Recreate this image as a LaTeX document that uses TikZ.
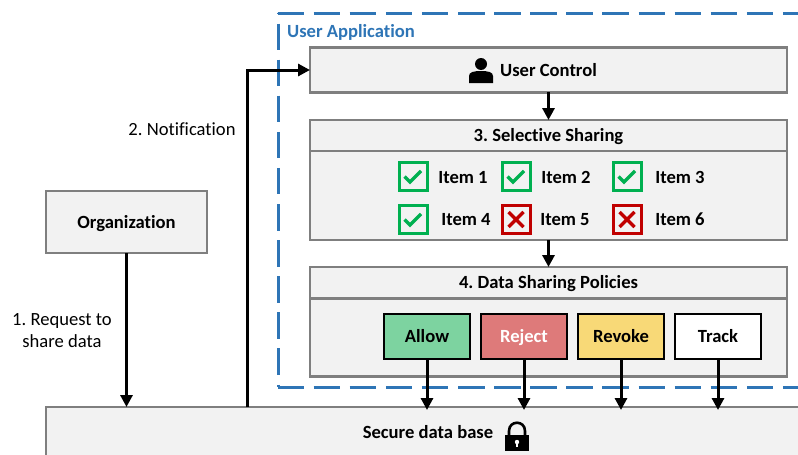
\documentclass[tikz,border=0pt]{standalone}
\usepackage{fontspec}
\setmainfont[Ligatures=NoCommon]{Carlito}
\frenchspacing
\usetikzlibrary{arrows.meta}

\definecolor{boxgray}{HTML}{F2F2F2}
\definecolor{edgegray}{HTML}{7F7F7F}
\definecolor{appblue}{HTML}{2E75B6}
\definecolor{okgreen}{HTML}{00B050}
\definecolor{nored}{HTML}{C00000}
\definecolor{allowfill}{HTML}{7DD3A0}
\definecolor{rejectfill}{HTML}{DE7A7A}
\definecolor{revokefill}{HTML}{F8D977}

\tikzset{
  lbl/.style={font=\fontsize{18.6}{22}\selectfont, inner sep=0pt, text height=14pt, text depth=2pt},
  lblb/.style={lbl, font=\fontsize{18.6}{22}\selectfont\bfseries},
  graybox/.style={lblb, draw=edgegray, line width=2.6pt, fill=boxgray, inner sep=0pt, outer sep=0pt},
  action/.style={lblb, draw=black, line width=2.4pt, inner sep=0pt, outer sep=0pt, minimum width=86pt, minimum height=45pt},
  flow/.style={line width=3pt, -{Triangle[length=12pt,width=12pt]}},
  appline/.style={draw=appblue, line width=3pt, dash pattern=on 26.5pt off 9.6pt},
  okbox/.style={draw=okgreen, line width=3pt, inner sep=0pt, minimum size=28pt,
    path picture={\draw[okgreen, line width=3.2pt] ([shift={(-8.5pt,0pt)}]path picture bounding box.center) -- ++(5.5pt,-5.5pt) -- ++(11pt,11pt);}},
  nobox/.style={draw=nored, line width=3pt, inner sep=0pt, minimum size=28pt,
    path picture={\draw[nored, line width=3.2pt] ([shift={(-7.5pt,-7.5pt)}]path picture bounding box.center) -- ++(15pt,15pt) ([shift={(-7.5pt,7.5pt)}]path picture bounding box.center) -- ++(15pt,-15pt);}},
}

\begin{document}
\begin{tikzpicture}[x=1pt,y=-1pt]
\useasboundingbox (0,0) rectangle (798,455);
\clip (0,0) rectangle (798,455);

% User application frame
\draw[appline] (277.5,13) -- (800,13);
\draw[appline] (277.5,387) -- (800,387);
\draw[appline, dash phase=25.6pt] (278,13) -- (278,387);
\node[lblb, text=appblue] (apptitle) at (351,31) {User Application};

% Bottom store and organization
\node[graybox, minimum width=800pt, minimum height=100pt] (store) at (446,457) {};
\node[lblb] (storetext) at (428,432) {Secure data base};
\node[graybox, minimum width=161pt, minimum height=62pt] (org) at (126.5,222) {Organization};

% User control
\node[graybox, minimum width=477pt, minimum height=44.5pt] (ctrl) at (548.5,70) {};
\node[lblb] (ctrltext) at (548.5,70) {User Control};
\fill (481,64) circle (6pt);
\fill (469,83) -- (469,76) .. controls (469,72) and (474,71) .. (481,71) .. controls (488,71) and (493,72) .. (493,76) -- (493,83) -- cycle;

% Selective sharing
\node[graybox, minimum width=477pt, minimum height=31pt] (sharehead) at (548.5,135.5) {3. Selective Sharing};
\node[graybox, minimum width=477pt, minimum height=89pt] (sharebody) at (548.5,195.5) {};

\node[okbox] (chka) at (413,176.5) {};
\node[okbox] (chkb) at (516,176.5) {};
\node[okbox] (chkc) at (627,176.5) {};
\node[okbox] (chkd) at (413,219.5) {};
\node[nobox] (chke) at (516,219.5) {};
\node[nobox] (chkf) at (627,219.5) {};

\node[lblb] (itema) at (463,177) {Item 1};
\node[lblb] (itemb) at (566,177) {Item 2};
\node[lblb] (itemc) at (680,177) {Item 3};
\node[lblb] (itemd) at (466,219.5) {Item 4};
\node[lblb] (iteme) at (565,219.5) {Item 5};
\node[lblb] (itemf) at (680,219.5) {Item 6};

% Data sharing policies
\node[graybox, minimum width=477pt, minimum height=31pt] (polhead) at (548.5,282.5) {4. Data Sharing Policies};
\node[graybox, minimum width=477pt, minimum height=78.5pt] (polbody) at (548.5,337.5) {};

\node[action, fill=allowfill] (allow) at (427,336.5) {Allow};
\node[action, fill=rejectfill, text=white] (reject) at (524,336.5) {Reject};
\node[action, fill=revokefill] (revoke) at (621,336.5) {Revoke};
\node[action, fill=white] (track) at (718,336.5) {Track};

% Lock
\draw[line width=2.6pt] (509,437) -- (509,431) .. controls (509,420) and (525,420) .. (525,431) -- (525,437);
\fill (505,435) rectangle (529,451);
\fill[white] (517,442) circle (2.2pt);
\fill[white] (516,442) rectangle (518,447);

% Labels
\node[lbl] (reqa) at (62,319) {1. Request to};
\node[lbl] (reqb) at (62,341) {share data};
\node[lbl] (note) at (182,129) {2. Notification};

% Arrows
\coordinate (ntf) at (247,407);
\draw[flow] (org.south) -- (org.south |- store.north);
\draw[flow] (ntf) |- (ctrl.west);
\draw[flow] (ctrl.south) -- (sharehead.north);
\draw[flow] (sharebody.south) -- (polhead.north);
\draw[flow, shorten >=-3pt] (allow.south) -- (allow.south |- store.north);
\draw[flow, shorten >=-3pt] (reject.south) -- (reject.south |- store.north);
\draw[flow, shorten >=-3pt] (revoke.south) -- (revoke.south |- store.north);
\draw[flow, shorten >=-3pt] (track.south) -- (track.south |- store.north);

\end{tikzpicture}
\end{document}
